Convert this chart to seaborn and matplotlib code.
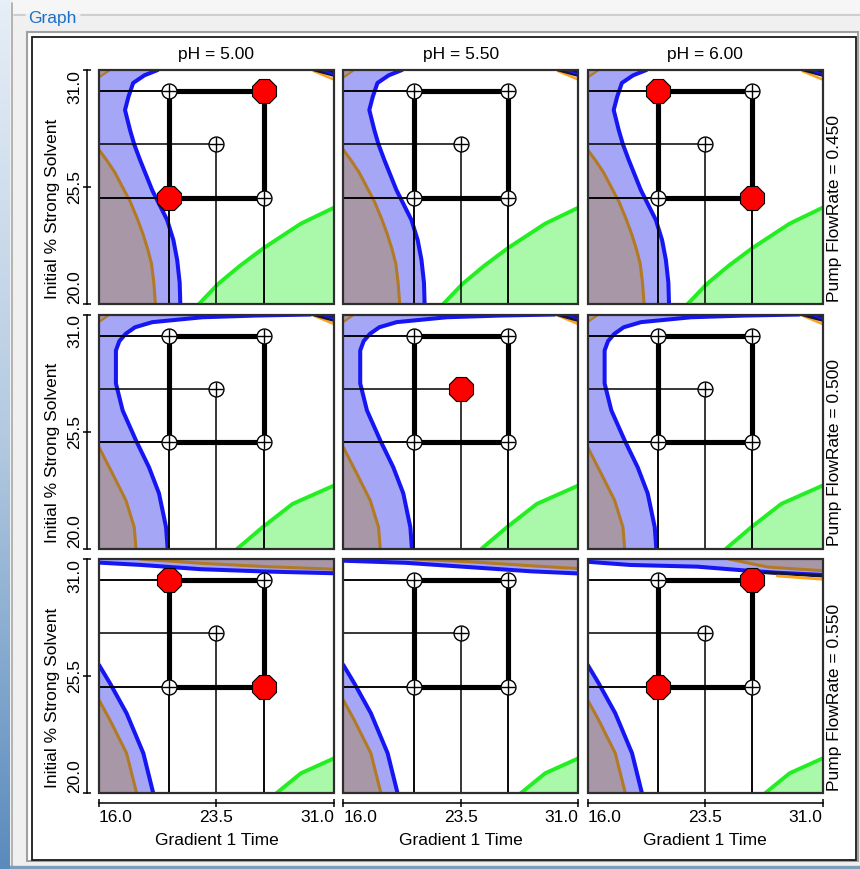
import matplotlib
matplotlib.use("Agg")
import matplotlib.pyplot as plt
from matplotlib.patches import Rectangle
from matplotlib.lines import Line2D
from matplotlib.colors import LinearSegmentedColormap
import numpy as np
import seaborn as sns

sns.set_theme(style="white")
plt.rcParams["font.family"] = ["Liberation Sans", "DejaVu Sans"]
plt.rcParams["text.color"] = "black"

# ---- factors -------------------------------------------------------------
ph_levels = ["5.00", "5.50", "6.00"]
flow_rates = ["0.450", "0.500", "0.550"]

# design points: gradient time (x) and initial % strong solvent (y)
design_time = [20.5, 26.5, 26.5, 20.5, 23.5]
design_solvent = [25.0, 25.0, 30.0, 30.0, 27.5]
square_time = [20.5, 26.5, 26.5, 20.5, 20.5]
square_solvent = [25.0, 25.0, 30.0, 30.0, 25.0]

# best points per panel [row = flow rate][col = pH]
best_time = [[[26.5, 20.5], [], [20.5, 26.5]],
             [[], [23.5], []],
             [[20.5, 26.5], [], [26.5, 20.5]]]
best_solvent = [[[30.0, 25.0], [], [30.0, 25.0]],
                [[], [27.5], []],
                [[30.0, 25.0], [], [30.0, 25.0]]]

x_ticks = [16.0, 23.5, 31.0]
y_ticks = [20.0, 25.5, 31.0]
x_range = (16.0, 31.0)
y_range = (20.0, 31.0)

# ---- response boundaries per flow-rate row ------------------------------
blue_edge_t = [
    [19.75, 18.9, 18.18, 17.88, 17.66, 17.98, 18.25, 18.62, 19.39, 20.35, 20.75,
     20.99, 21.15, 21.19],
    [29.5, 26.0, 22.6, 19.4, 18.3, 17.7, 17.3, 17.08, 17.08, 17.51, 18.36, 19.19,
     19.83, 20.28, 20.38],
    [16.0, 16.7, 17.76, 18.83, 19.46],
]
blue_edge_s = [
    [31.0, 30.75, 30.39, 29.74, 29.12, 28.18, 27.5, 26.77, 25.36, 23.95, 23.0,
     22.07, 21.0, 20.0],
    [31.0, 30.95, 30.87, 30.64, 30.4, 30.09, 29.75, 29.31, 27.76, 26.49, 25.08, 23.82,
     22.59, 21.0, 20.0],
    [26.02, 25.16, 23.75, 21.87, 20.0],
]
brown_edge_t = [
    [16.0, 16.5, 17.0, 17.5, 18.0, 18.45, 18.8, 19.1, 19.35, 19.5, 19.6],
    [16.0, 16.87, 17.72, 18.25, 18.36],
    [16.0, 16.7, 17.76, 18.4],
]
brown_edge_s = [
    [27.25, 26.75, 26.2, 25.5, 24.8, 24.0, 23.3, 22.6, 21.9, 21.0, 20.0],
    [24.76, 23.51, 22.26, 21.0, 20.0],
    [24.37, 23.43, 21.87, 20.0],
]
green_edge_t = [
    [22.38, 23.6, 25.0, 26.53, 28.89, 31.0],
    [24.84, 26.44, 28.36, 31.0],
    [27.34, 28.89, 31.0],
]
green_edge_s = [
    [20.0, 20.94, 21.8, 22.64, 23.78, 24.53],
    [20.0, 21.0, 22.1, 22.96],
    [20.0, 20.93, 21.63],
]

# upper bands in the high flow-rate row, one per pH column
top_blue_t = [[16.0, 18.7, 22.5, 26.7, 31.0],
              [16.0, 20.0, 24.0, 28.0, 31.0],
              [16.0, 18.7, 23.0, 25.7, 28.0, 31.0]]
top_blue_s = [[30.83, 30.72, 30.52, 30.41, 30.33],
              [30.92, 30.82, 30.62, 30.42, 30.32],
              [30.87, 30.72, 30.64, 30.48, 30.36, 30.25]]
top_brown_t = [[18.6, 22.5, 26.7, 31.0],
               [20.5, 24.5, 28.0, 31.0],
               [25.0, 27.5, 31.0]]
top_brown_s = [[31.0, 30.80, 30.64, 30.52],
               [31.0, 30.85, 30.68, 30.55],
               [31.0, 30.62, 30.45]]
ridge_t = [27.3, 31.0]
ridge_s = [30.36, 30.2]
ridge_low_t = [28.1, 31.0]
ridge_low_s = [30.2, 30.05]

# corner features in the lower two flow rates
crest_t = [29.4, 31.0, 31.0]
crest_s = [31.0, 31.0, 30.65]
crest_edge_t = [29.7, 31.0]
crest_edge_s = [30.95, 30.55]
wedge_t = [16.0, 16.7, 16.0]
wedge_s = [31.0, 31.0, 30.65]

# ---- colours -------------------------------------------------------------
C_BLUE_FILL = "#A6A6F7"
C_BLUE = "#1616F2"
C_MAUVE = "#A797A7"
C_BROWN = "#B27A22"
C_GREEN_FILL = "#AAF8AA"
C_GREEN = "#22EE22"
C_ORANGE = "#FFA21C"
C_DARK = "#14143C"

W, H = 860, 869
fig = plt.figure(figsize=(W / 100, H / 100), dpi=100, facecolor="#F0F0F0")


def fx(px):
    return px / W


def fy(py):
    return 1 - py / H


# ---- window frame (kept behind the panels) -------------------------------
strip = fig.add_axes([0, 0, fx(10), 1])
strip.imshow(np.linspace(0, 1, 256)[:, None], aspect="auto",
             cmap=LinearSegmentedColormap.from_list(
                 "strip", ["#E6EEF7", "#B4CAE1", "#5A8BBD"]),
             extent=[0, 1, 0, 1])
strip.axis("off")

BACK = -5
fig.add_artist(Rectangle((fx(12), fy(12)), 1, 12 / H, transform=fig.transFigure,
                         color="#F5F6F5", zorder=BACK))
fig.add_artist(Line2D([fx(11.5), fx(11.5)], [fy(3), 0], transform=fig.transFigure,
                      color="#A8A8A8", lw=1.2, zorder=BACK))
for x0, x1 in [(14, 25), (81, 860)]:
    fig.add_artist(Line2D([fx(x0), fx(x1)], [fy(15), fy(15)], transform=fig.transFigure,
                          color="#C8C8C8", lw=1.2, zorder=BACK))
fig.text(fx(28), fy(18), "Graph", color="#1C6FC8", fontsize=12.5,
         ha="left", va="center")
fig.add_artist(Rectangle((fx(27), fy(861)), (858 - 27) / W, (861 - 32) / H,
                         transform=fig.transFigure, fc="white", ec="#A0A0A0",
                         lw=1.5, zorder=BACK))
fig.add_artist(Rectangle((fx(32), fy(860)), (856 - 32) / W, (860 - 37) / H,
                         transform=fig.transFigure, fc="white", ec="#1A1A1A",
                         lw=1.3, zorder=BACK))
fig.add_artist(Rectangle((0, 0), 1, 3 / H, transform=fig.transFigure,
                         color="#7E9CBB", zorder=BACK))

# ---- panels --------------------------------------------------------------
col_left = [99.0, 343.3, 587.7]
row_top = [70.0, 314.5, 559.0]
pw, ph = 235.0, 234.0
FS = 12.5


def closed(ts, ss):
    return ts + [x_range[0], x_range[0]], ss + [y_range[0], ss[0]]


def draw_panel(ax, r, c):
    ax.set_facecolor("white")
    # regions
    t, s = closed(blue_edge_t[r], blue_edge_s[r])
    ax.fill(t, s, color=C_BLUE_FILL, lw=0, zorder=1)
    t, s = closed(brown_edge_t[r], brown_edge_s[r])
    ax.fill(t, s, color=C_MAUVE, lw=0, zorder=1.1)
    ax.fill(green_edge_t[r] + [x_range[1]], green_edge_s[r] + [y_range[0]],
            color=C_GREEN_FILL, lw=0, zorder=1)
    ax.plot(blue_edge_t[r], blue_edge_s[r], color=C_BLUE, lw=2.9, zorder=2,
            solid_joinstyle="round")
    ax.plot(brown_edge_t[r], brown_edge_s[r], color=C_BROWN, lw=2.2, zorder=2,
            solid_joinstyle="round")
    ax.plot(green_edge_t[r], green_edge_s[r], color=C_GREEN, lw=2.8, zorder=2,
            solid_joinstyle="round")

    if r < 2:
        ax.fill(wedge_t, wedge_s, color=C_MAUVE, lw=0, zorder=1.2)
        ax.plot(wedge_t[1:], wedge_s[1:], color=C_BROWN, lw=1.5, zorder=2)
        ax.fill(crest_t, crest_s, color=C_DARK, lw=0, zorder=2.1)
        ax.plot(crest_edge_t, crest_edge_s, color=C_ORANGE, lw=1.8, zorder=2.0)
        ax.plot([30.2, 31.0], [31.0, 30.8], color=C_BLUE, lw=1.5, zorder=2.2)
    else:
        ax.fill_between(top_blue_t[c], top_blue_s[c], y_range[1],
                        color=C_BLUE_FILL, lw=0, zorder=1)
        ax.fill_between(top_brown_t[c], top_brown_s[c], y_range[1],
                        color=C_MAUVE, lw=0, zorder=1.1)
        ax.plot(top_blue_t[c], top_blue_s[c], color=C_BLUE, lw=2.9, zorder=2)
        ax.plot(top_brown_t[c], top_brown_s[c], color=C_BROWN, lw=2.2, zorder=2)
        if c == 2:
            ax.plot(ridge_t, ridge_s, color=C_DARK, lw=2.2, zorder=2.1)
            ax.plot(ridge_low_t, ridge_low_s, color=C_ORANGE, lw=2.0, zorder=2.1)

    # drop lines from every design point to the axes
    ax.hlines(design_solvent, x_range[0], design_time, color="black", lw=1.1, zorder=3)
    ax.vlines(design_time, y_range[0], design_solvent, color="black", lw=1.1, zorder=3)
    sns.lineplot(x=square_time, y=square_solvent, sort=False, estimator=None,
                 color="black", lw=3.7, ax=ax, legend=False, zorder=4)
    sns.scatterplot(x=design_time, y=design_solvent, marker="o", s=115,
                    color="white", edgecolor="black", linewidth=1.0,
                    ax=ax, legend=False, zorder=5)
    ax.scatter(design_time, design_solvent, marker="+", s=115, color="black",
               linewidths=1.0, zorder=6)
    if best_time[r][c]:
        sns.scatterplot(x=best_time[r][c], y=best_solvent[r][c], marker="8",
                        s=350, color="#FF0000", edgecolor="black", linewidth=0.8,
                        ax=ax, legend=False, zorder=7)

    ax.set_xlim(x_range)
    ax.set_ylim(y_range)
    ax.set_xlabel("")
    ax.set_ylabel("")
    for sp in ax.spines.values():
        sp.set_visible(False)
    ax.add_patch(Rectangle((0, 0), 1, 1, transform=ax.transAxes, fill=False,
                           ec="#2E2E2E", lw=1.6, zorder=10, clip_on=False))

    if c == 0:
        sp = ax.spines["left"]
        sp.set_visible(True)
        sp.set_position(("outward", 8.6))
        sp.set_color("black")
        sp.set_linewidth(1.1)
        ax.set_yticks(y_ticks, labels=[f"{v:.1f}" for v in y_ticks], rotation=90)
        ax.tick_params(axis="y", left=True, direction="inout", length=5.8,
                       width=1.1, color="black", pad=0.5, labelsize=FS,
                       labelcolor="black")
        for lab, va in zip(ax.get_yticklabels(), ["bottom", "center", "top"]):
            lab.set_va(va)
    else:
        ax.set_yticks([])
    if r == 2:
        sp = ax.spines["bottom"]
        sp.set_visible(True)
        sp.set_position(("outward", 7.2))
        sp.set_color("black")
        sp.set_linewidth(1.1)
        ax.set_xticks(x_ticks, labels=[f"{v:.1f}" for v in x_ticks])
        ax.tick_params(axis="x", bottom=True, direction="inout", length=5.8,
                       width=1.1, color="black", pad=2.5, labelsize=FS,
                       labelcolor="black")
        for lab, ha in zip(ax.get_xticklabels(), ["left", "center", "right"]):
            lab.set_ha(ha)
    else:
        ax.set_xticks([])


for r in range(3):
    for c in range(3):
        ax = fig.add_axes([fx(col_left[c]), fy(row_top[r] + ph), pw / W, ph / H])
        draw_panel(ax, r, c)

# ---- outer labels --------------------------------------------------------
for c, ph_val in enumerate(ph_levels):
    cx = col_left[c] + pw / 2
    fig.text(fx(cx), fy(59), f"pH = {ph_val}", ha="center", va="baseline", fontsize=FS)
    fig.text(fx(cx), fy(845), "Gradient 1 Time", ha="center", va="baseline", fontsize=FS)
for r, fr in enumerate(flow_rates):
    cy = row_top[r] + ph / 2 + 21.5
    fig.text(fx(52.5), fy(cy), "Initial % Strong Solvent", rotation=90,
             ha="center", va="center", fontsize=FS)
    fig.text(fx(835), fy(cy), f"Pump FlowRate = {fr}", rotation=90,
             ha="center", va="center", fontsize=FS)

fig.savefig("out.png", dpi=100, facecolor=fig.get_facecolor())
